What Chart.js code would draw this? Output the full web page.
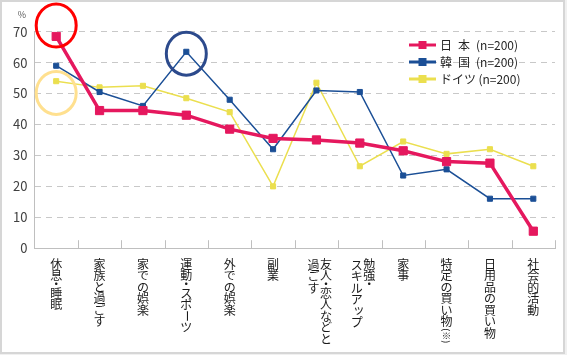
<!DOCTYPE html>
<html><head><meta charset="utf-8">
<script src="https://cdn.jsdelivr.net/npm/chart.js@4"></script>
<style>
html,body{margin:0;padding:0;background:#f0f0f0;}
#wrap{position:absolute;left:0;top:0;width:565px;height:354px;box-sizing:border-box;border:2px solid #d6d6d6;background:#fff;}
canvas{display:block;}
</style></head><body>
<div id="wrap"><canvas id="c" width="561" height="350"></canvas></div>
<script>
// ---- data ----
const categories = ['休息・睡眠','家族と過ごす','家での娯楽','運動・スポーツ','外での娯楽','副業','友人・恋人などと\n過ごす','勉強・\nスキルアップ','家事','特定の買い物(※)','日用品の買い物','社会的活動'];
const seriesNames = ['日\u2002本\u2002(n=200)','韓\u2002国\u2002(n=200)','ドイツ\u2009(n=200)'];
const japan   = [68.5,44.5,44.5,43.0,38.5,35.5,35.0,34.0,31.5,28.0,27.5,5.5];
const korea   = [59.0,50.5,46.0,63.5,48.0,32.0,51.0,50.5,23.5,25.5,16.0,16.0];
const germany = [54.0,52.0,52.5,48.5,44.0,20.0,53.5,26.5,34.5,30.5,32.0,26.5];
const yTicks  = [0,10,20,30,40,50,60,70];
const yUnit = '%';
// highlighted spots (category index, value)
const highlightIdx = [0,3,0];
const highlightVal = [72.0,62.9,50.2];
const highlightCol = ['#ff0000','#2c4a8c','#ffe08f'];

const colors = ['#e5185e','#1b4f96','#ebdf4f'];
const FONT = "'Noto Sans CJK JP','Noto Sans',sans-serif";

function drawVertical(ctx, text, cx, top){
  const tokens = [];
  text.split(/(\(※\))/).forEach(p=>{ if(p==='(※)') tokens.push(p); else Array.from(p).forEach(c=>tokens.push(c)); });
  let y = top;
  tokens.forEach(t=>{
    let adv = 11.5;
    if (t==='・') adv = 6;
    if (t==='(※)') adv = 17;
    const cy = y + adv/2;
    if (t==='ー'){
      ctx.save(); ctx.translate(cx, cy); ctx.rotate(Math.PI/2); ctx.fillText(t,0,0); ctx.restore();
    } else if (t==='(※)'){
      ctx.save(); ctx.font = "9px "+FONT; ctx.translate(cx, cy); ctx.rotate(Math.PI/2); ctx.fillText(t,0,0); ctx.restore();
    } else if ('ッャュョ'.includes(t)){
      ctx.fillText(t, cx+2, cy-2);
    } else {
      ctx.fillText(t, cx, cy);
    }
    y += adv;
  });
}

const decor = {
  id:'decor',
  afterDatasetsDraw(chart){
    const {ctx, chartArea:a, scales:{x,y}} = chart;
    const half = (x.getPixelForValue(1)-x.getPixelForValue(0))/2;
    ctx.save();
    // inner tick marks
    ctx.strokeStyle='#bfbfbf'; ctx.lineWidth=1;
    for (let i=1;i<=categories.length;i++){
      const px = Math.round(x.getPixelForValue(i) - half)+0.5;
      ctx.beginPath(); ctx.moveTo(px, a.bottom); ctx.lineTo(px, a.bottom-8); ctx.stroke();
    }
    // highlight ellipses
    ctx.lineWidth = 3;
    for (let k=0;k<highlightIdx.length;k++){
      ctx.strokeStyle = highlightCol[k];
      ctx.beginPath();
      ctx.ellipse(x.getPixelForValue(highlightIdx[k]), y.getPixelForValue(highlightVal[k]), 20, 21.5, 0, 0, Math.PI*2);
      ctx.stroke();
    }
    ctx.restore();
  },
  afterDraw(chart){
    const {ctx, chartArea:a, scales:{x}} = chart;
    ctx.save();
    // unit
    ctx.fillStyle='#595959'; ctx.font="9px "+FONT; ctx.textAlign='center'; ctx.textBaseline='middle';
    ctx.fillText(yUnit, a.left-12.5, a.top-17);
    // vertical category labels
    ctx.fillStyle='#1a1a1a'; ctx.font="12px "+FONT;
    categories.forEach((lab,i)=>{
      const c = x.getPixelForValue(i);
      const cols = lab.split('\n');
      if (cols.length===1){ drawVertical(ctx, cols[0], c, a.bottom+10); }
      else {
        drawVertical(ctx, cols[0], c+9.5, a.bottom+10);
        drawVertical(ctx, cols[1], c-3, a.bottom+11);
      }
    });
    // legend
    const lx = a.right-146, ly = a.top+13.3;
    chart.data.datasets.forEach((ds,k)=>{
      const yy = ly + k*17;
      ctx.strokeStyle = ds.borderColor; ctx.lineWidth = 3;
      ctx.beginPath(); ctx.moveTo(lx, yy); ctx.lineTo(lx+27, yy); ctx.stroke();
      ctx.fillStyle = ds.borderColor;
      ctx.fillRect(lx+13.5-4, yy-4, 8, 8);
      ctx.fillStyle = '#262626'; ctx.font="12px "+FONT; ctx.textAlign='left'; ctx.textBaseline='middle';
      ctx.fillText(ds.label, lx+31, yy);
    });
    ctx.restore();
  }
};

new Chart(document.getElementById('c'), {
  type:'line',
  data:{
    labels: categories,
    datasets:[
      {label:seriesNames[0], data:japan, borderColor:colors[0], backgroundColor:colors[0], borderWidth:3.5, pointStyle:'rect', pointRadius:5.8, pointBorderWidth:1, pointBackgroundColor:colors[0], pointBorderColor:colors[0], tension:0},
      {label:seriesNames[1], data:korea, borderColor:colors[1], backgroundColor:colors[1], borderWidth:1.5, pointStyle:'rect', pointRadius:3.6, pointBorderWidth:1, pointBackgroundColor:colors[1], pointBorderColor:colors[1], tension:0},
      {label:seriesNames[2], data:germany, borderColor:colors[2], backgroundColor:colors[2], borderWidth:1.5, pointStyle:'rect', pointRadius:3.6, pointBorderWidth:1, pointBackgroundColor:colors[2], pointBorderColor:colors[2], tension:0}
    ]
  },
  options:{
    responsive:false, animation:false,
    layout:{autoPadding:false, padding:{left:0,right:8,top:29.7,bottom:0}},
    plugins:{legend:{display:false}, tooltip:{enabled:false}},
    scales:{
      x:{
        offset:true,
        grid:{display:false, drawTicks:false},
        border:{display:true, color:'#bfbfbf', width:1},
        ticks:{display:false},
        afterFit(s){ s.height = 103.8; }
      },
      y:{
        min:0, max:70,
        afterBuildTicks(s){ s.ticks = yTicks.map(v=>({value:v})); },
        grid:{color:(c)=> c.tick && c.tick.value===0 ? 'rgba(0,0,0,0)' : '#c8c8c8', lineWidth:1, drawTicks:false},
        border:{display:true, color:'#bfbfbf', width:1, dash:[6,5]},
        ticks:{color:'#404040', font:{family:FONT, size:13}, padding:7},
        afterFit(s){ s.width = 32.5; }
      }
    }
  },
  plugins:[decor]
});
</script>
</body></html>
